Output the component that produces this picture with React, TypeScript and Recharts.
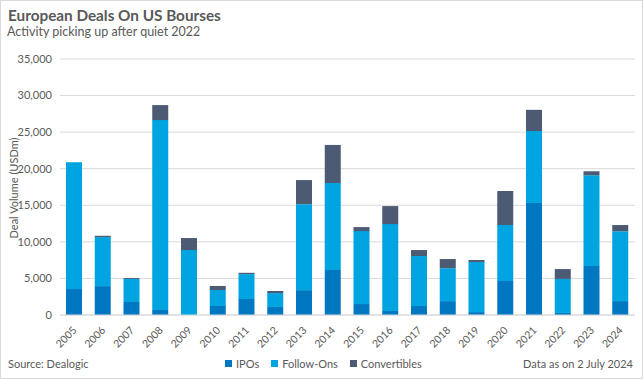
import { BarChart, Bar, XAxis, YAxis, CartesianGrid } from 'recharts';

const years = ['2005', '2006', '2007', '2008', '2009', '2010', '2011', '2012', '2013', '2014', '2015', '2016', '2017', '2018', '2019', '2020', '2021', '2022', '2023', '2024'];
const ipos = [3550, 3950, 1780, 700, 0, 1230, 2190, 1100, 3400, 6150, 1500, 550, 1230, 1900, 400, 4650, 15300, 280, 6700, 1900];
const followOns = [17350, 6700, 3140, 25950, 8880, 2190, 3400, 1900, 11750, 11900, 9970, 11880, 6830, 4500, 6850, 7650, 9850, 4650, 12400, 9550];
const convertibles = [0, 180, 130, 2050, 1640, 550, 180, 280, 3300, 5200, 550, 2460, 820, 1250, 270, 4650, 2900, 1350, 550, 850];
const yTicks = [0, 5000, 10000, 15000, 20000, 25000, 30000, 35000];

const series = [
  { key: 'ipos', name: 'IPOs', color: '#0078c1' },
  { key: 'followOns', name: 'Follow-Ons', color: '#00a4e1' },
  { key: 'convertibles', name: 'Convertibles', color: '#4d5a73' },
];

const data = years.map((y, i) => ({
  year: y,
  ipos: ipos[i],
  followOns: followOns[i],
  convertibles: convertibles[i],
}));

const TEXT = '#595959';
const FONT = 'Lato, "Noto Sans", sans-serif';

// rotated year labels, top-right end sits under the bar
function YearTick({ x, y, payload }: any) {
  return (
    <text
      x={x + 3}
      y={y + 8}
      transform={`rotate(-45, ${x + 3}, ${y + 8})`}
      textAnchor="end"
      fontSize={10.5}
      fill={TEXT}
      fontFamily={FONT}
    >
      {payload.value}
    </text>
  );
}

export default function App() {
  return (
    <div
      style={{
        position: 'absolute',
        left: 0,
        top: 0,
        width: 643,
        height: 379,
        boxSizing: 'border-box',
        border: '1px solid #d9d9d9',
        background: '#fff',
        fontFamily: FONT,
        color: TEXT,
      }}
    >
      <div style={{ position: 'absolute', left: 7, top: 5, fontSize: 15.3, fontWeight: 700 }}>
        European Deals On US Bourses
      </div>
      <div style={{ position: 'absolute', left: 6, top: 23, fontSize: 12.5 }}>
        Activity picking up after quiet 2022
      </div>
      <div
        style={{
          position: 'absolute',
          left: 12,
          top: 187,
          fontSize: 11,
          transform: 'translate(-50%, -50%) rotate(-90deg)',
          whiteSpace: 'nowrap',
        }}
      >
        Deal Volume (USDm)
      </div>
      <div style={{ position: 'absolute', left: -1, top: -1 }}>
        <BarChart
          width={643}
          height={379}
          data={data}
          margin={{ top: 59, right: 8, left: 0, bottom: 0 }}
          barSize={16}
        >
          <CartesianGrid vertical={false} stroke="#d9d9d9" />
          <XAxis
            dataKey="year"
            axisLine={{ stroke: '#d9d9d9' }}
            tickLine={false}
            interval={0}
            height={64}
            tick={<YearTick />}
          />
          <YAxis
            width={60}
            domain={[0, 35000]}
            ticks={yTicks}
            axisLine={false}
            tickLine={false}
            tickFormatter={(v: number) => v.toLocaleString('en-US')}
            tick={{ fill: TEXT, fontSize: 11, fontFamily: FONT }}
          />
          {series.map((s) => (
            <Bar key={s.key} dataKey={s.key} name={s.name} stackId="a" fill={s.color} isAnimationActive={false} />
          ))}
        </BarChart>
      </div>
      <div style={{ position: 'absolute', left: 7, top: 356, fontSize: 11 }}>Source: Dealogic</div>
      <div style={{ position: 'absolute', right: 9, top: 356, fontSize: 11 }}>Data as on 2 July 2024</div>
      <div
        style={{
          position: 'absolute',
          left: 224,
          top: 356,
          fontSize: 11,
          display: 'flex',
          gap: 12,
          whiteSpace: 'nowrap',
        }}
      >
        {series.map((s) => (
          <div key={s.key} style={{ display: 'flex', alignItems: 'center' }}>
            <span style={{ display: 'inline-block', width: 7, height: 7, background: s.color, marginRight: 4 }} />
            {s.name}
          </div>
        ))}
      </div>
    </div>
  );
}
